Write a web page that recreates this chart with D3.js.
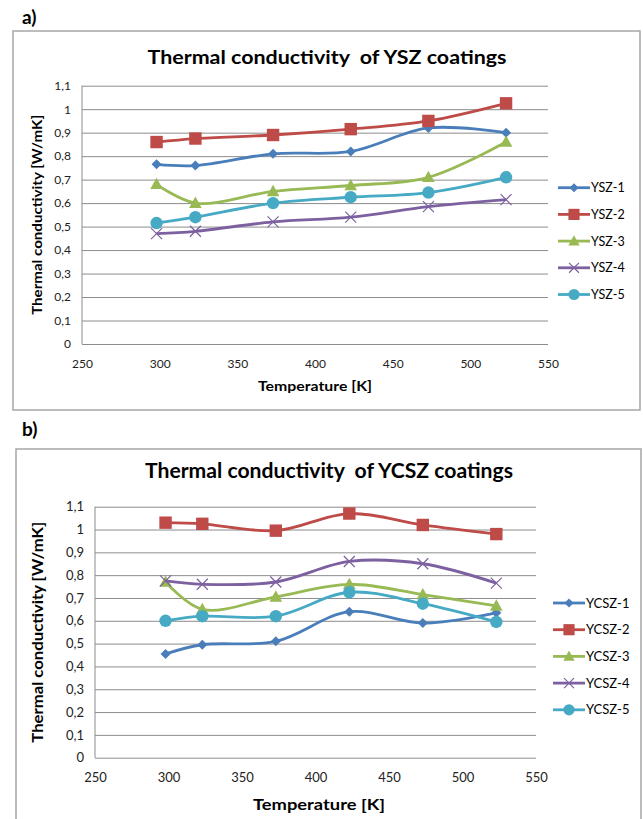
<!DOCTYPE html>
<html>
<head>
<meta charset="utf-8">
<script src="https://cdn.jsdelivr.net/npm/d3@7"></script>
<style>
  body { margin: 0; background: #fff; }
  svg { display: block; font-family: Lato, "Open Sans", sans-serif; }
  .frame { fill: #fff; stroke: #a6a6a6; stroke-width: 1.5; }
  .grid line { stroke: #8c8c8c; stroke-width: 1; }
  .tick text { fill: #222; }
</style>
</head>
<body>
<svg width="643" height="819"></svg>
<script>
// Temperatures [K] measured
const temperatures = [298, 323, 373, 423, 473, 523]

// Tick values
const xTicks = [250, 300, 350, 400, 450, 500, 550]
const yTicks = [0, 0.1, 0.2, 0.3, 0.4, 0.5, 0.6, 0.7, 0.8, 0.9, 1, 1.1]

// Panel a) YSZ coatings
const yszNames = ['YSZ-1', 'YSZ-2', 'YSZ-3', 'YSZ-4', 'YSZ-5']
const ysz1 = [0.765, 0.76, 0.81, 0.82, 0.92, 0.90]
const ysz2 = [0.86, 0.875, 0.89, 0.915, 0.95, 1.025]
const ysz3 = [0.68, 0.60, 0.65, 0.675, 0.71, 0.86]
const ysz4 = [0.47, 0.48, 0.52, 0.54, 0.585, 0.615]
const ysz5 = [0.515, 0.54, 0.60, 0.625, 0.645, 0.71]

// Panel b) YCSZ coatings
const ycszNames = ['YCSZ-1', 'YCSZ-2', 'YCSZ-3', 'YCSZ-4', 'YCSZ-5']
const ycsz1 = [0.455, 0.495, 0.51, 0.64, 0.59, 0.635]
const ycsz2 = [1.03, 1.025, 0.995, 1.07, 1.02, 0.98]
const ycsz3 = [0.77, 0.65, 0.705, 0.76, 0.715, 0.665]
const ycsz4 = [0.775, 0.76, 0.77, 0.86, 0.85, 0.765]
const ycsz5 = [0.60, 0.62, 0.62, 0.725, 0.675, 0.595]

const colors = ['#4a7ebb', '#be4b48', '#98b954', '#7d60a0', '#46aac5']
const markers = ['diamond', 'square', 'triangle', 'cross', 'circle']

const commaFormat = d3.formatLocale({ decimal: ',', thousands: '.', grouping: [3], currency: ['', ''] }).format('~g')

const svg = d3.select('svg')

function drawMarker(g, type, color, s) {
  if (type === 'diamond') {
    g.append('path').attr('d', `M0,${-s}L${s},0L0,${s}L${-s},0Z`).attr('fill', color)
  } else if (type === 'square') {
    g.append('rect').attr('x', -s).attr('y', -s).attr('width', 2 * s).attr('height', 2 * s).attr('fill', color)
  } else if (type === 'triangle') {
    g.append('path').attr('d', `M0,${-s * 1.1}L${s * 1.05},${s * 0.8}L${-s * 1.05},${s * 0.8}Z`).attr('fill', color)
  } else if (type === 'cross') {
    g.append('path').attr('d', `M${-s},${-s}L${s},${s}M${-s},${s}L${s},${-s}`)
      .attr('stroke', color).attr('stroke-width', 1.2).attr('fill', 'none')
  } else {
    g.append('circle').attr('r', s).attr('fill', color)
  }
}

function drawPanel(p) {
  // frame and panel label
  svg.append('rect').attr('class', 'frame')
    .attr('x', p.frame[0]).attr('y', p.frame[1]).attr('width', p.frame[2]).attr('height', p.frame[3])
  svg.append('text').attr('x', 22).attr('y', p.labelY)
    .attr('font-size', 19).attr('font-weight', 'bold').text(p.label)

  const xScale = d3.scaleLinear().domain([250, 550]).range([p.left, p.right])
  const yScale = d3.scaleLinear().domain([0, 1.1]).range([p.bottom, p.top])

  // horizontal grid
  svg.append('g').attr('class', 'grid')
    .attr('transform', `translate(${p.left},0)`)
    .call(d3.axisLeft(yScale).tickValues(yTicks).tickSize(-(p.right - p.left)).tickFormat(''))
    .call(g => g.select('.domain').remove())

  // y axis line
  svg.append('line').attr('x1', p.left).attr('x2', p.left).attr('y1', p.top).attr('y2', p.bottom)
    .attr('stroke', '#8c8c8c')

  // y tick labels
  svg.append('g').attr('transform', `translate(${p.left - 8},0)`)
    .call(d3.axisLeft(yScale).tickValues(yTicks).tickSize(0).tickFormat(commaFormat))
    .call(g => g.select('.domain').remove())
    .call(g => g.selectAll('text').attr('font-size', p.tickSize).attr('font-family', 'Lato, sans-serif'))

  // x tick labels
  svg.append('g').attr('transform', `translate(0,${p.bottom + 12})`)
    .call(d3.axisBottom(xScale).tickValues(xTicks).tickSize(0).tickFormat(d3.format('d')))
    .call(g => g.select('.domain').remove())
    .call(g => g.selectAll('text').attr('font-size', p.tickSize).attr('font-family', 'Lato, sans-serif'))

  // titles
  svg.append('text').attr('x', p.titleX).attr('y', p.titleY).attr('text-anchor', 'middle')
    .attr('font-size', p.titleSize).attr('font-weight', 'bold')
    .attr('textLength', p.titleLen).attr('lengthAdjust', 'spacingAndGlyphs')
    .style('white-space', 'pre').text(p.title)
  svg.append('text').attr('x', p.xLabelX).attr('y', p.xLabelY).attr('text-anchor', 'middle')
    .attr('font-size', p.axisSize).attr('font-weight', 'bold')
    .attr('textLength', p.xLabelLen).attr('lengthAdjust', 'spacingAndGlyphs')
    .text('Temperature [K]')
  svg.append('text')
    .attr('transform', `translate(${p.yLabelX},${(p.top + p.bottom) / 2}) rotate(-90)`)
    .attr('text-anchor', 'middle')
    .attr('font-size', p.axisSize).attr('font-weight', 'bold')
    .attr('textLength', p.yLabelLen).attr('lengthAdjust', 'spacingAndGlyphs')
    .text('Thermal conductivity [W/mK]')

  const line = d3.line()
    .x((d, i) => xScale(temperatures[i]))
    .y(d => yScale(d))
    .curve(d3.curveCatmullRom.alpha(0.5))

  const sizes = [5, 6.2, 6, 5.5, 6.2]

  p.series.forEach((values, k) => {
    svg.append('path').datum(values)
      .attr('d', line)
      .attr('fill', 'none')
      .attr('stroke', colors[k])
      .attr('stroke-width', 2.8)

    values.forEach((v, i) => {
      const g = svg.append('g').attr('transform', `translate(${xScale(temperatures[i])},${yScale(v)})`)
      drawMarker(g, markers[k], colors[k], sizes[k])
    })

    // legend entry
    const ly = p.legendY + k * 26.7
    svg.append('line').attr('x1', p.legendX).attr('x2', p.legendX + 32)
      .attr('y1', ly).attr('y2', ly).attr('stroke', colors[k]).attr('stroke-width', 2.8)
    const lg = svg.append('g').attr('transform', `translate(${p.legendX + 16},${ly})`)
    drawMarker(lg, markers[k], colors[k], sizes[k] * 0.9)
    svg.append('text').attr('x', p.legendX + 33).attr('y', ly + 4.5)
      .attr('font-size', p.legendSize).text(p.names[k])
  })
}

drawPanel({
  label: 'a)', labelY: 24,
  frame: [13, 31, 627, 379],
  left: 82, right: 548, top: 85.7, bottom: 344,
  tickSize: 12, axisSize: 13.5, titleSize: 19.5, legendSize: 12.5,
  title: 'Thermal conductivity  of YSZ coatings', titleX: 327, titleY: 64, titleLen: 359,
  xLabelX: 315, xLabelY: 391, xLabelLen: 114, yLabelX: 42, yLabelLen: 200,
  legendX: 558, legendY: 187.7,
  names: yszNames,
  series: [ysz1, ysz2, ysz3, ysz4, ysz5]
})

drawPanel({
  label: 'b)', labelY: 436,
  frame: [16, 449, 625, 390],
  left: 95, right: 536, top: 506.7, bottom: 757.7,
  tickSize: 13, axisSize: 15, titleSize: 20, legendSize: 13,
  title: 'Thermal conductivity  of YCSZ coatings', titleX: 329, titleY: 478, titleLen: 368,
  xLabelX: 319, xLabelY: 810, xLabelLen: 132, yLabelX: 43, yLabelLen: 221,
  legendX: 553, legendY: 603,
  names: ycszNames,
  series: [ycsz1, ycsz2, ycsz3, ycsz4, ycsz5]
})
</script>
</body>
</html>
